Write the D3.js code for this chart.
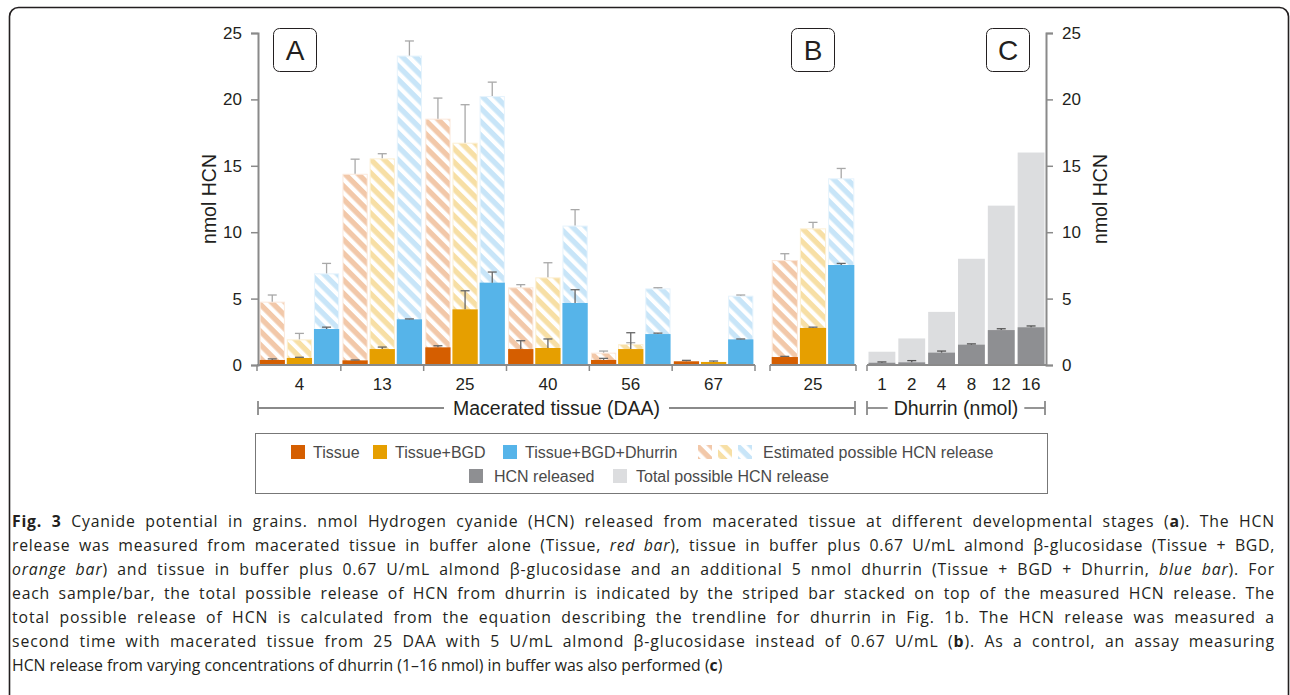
<!DOCTYPE html>
<html><head><meta charset="utf-8">
<script src="https://cdn.jsdelivr.net/npm/d3@7"></script>
<style>
html,body{margin:0;padding:0;background:#fff;}
#wrap{position:relative;width:1290px;height:695px;overflow:hidden;}
svg{position:absolute;left:0;top:0;}
.cap{position:absolute;left:12px;font-family:"Open Sans",sans-serif;font-size:15.8px;line-height:24px;color:#231f20;white-space:nowrap;}
.cap.j{text-align:justify;text-align-last:justify;}
</style></head>
<body><div id="wrap"><svg id="chart" width="1290" height="695"></svg><div id="caption"></div></div>
<script>
// ---------- data ----------
const groupsA = ["4","13","25","40","56","67"];
const seriesNames = ["Tissue","Tissue+BGD","Tissue+BGD+Dhurrin"];
const tissueA      = [0.38, 0.35, 1.33, 1.20, 0.38, 0.28];
const tissueAErr   = [0.08, 0.03, 0.12, 0.63, 0.12, 0.07];
const bgdA         = [0.53, 1.20, 4.19, 1.28, 1.20, 0.23];
const bgdAErr      = [0.05, 0.15, 1.40, 0.68, 1.23, 0.07];
const dhurrinA     = [2.71, 3.44, 6.20, 4.67, 2.33, 1.93];
const dhurrinAErr  = [0.14, 0.03, 0.80, 1.00, 0.07, 0.03];
const tissueATotal    = [4.77, 14.40, 18.55, 5.85, 0.93, 0.20];
const tissueATotalErr = [0.50, 1.10, 1.55, 0.20, 0.12, 0.00];
const bgdATotal       = [1.93, 15.56, 16.74, 6.60, 1.58, 0.20];
const bgdATotalErr    = [0.45, 0.35, 2.86, 1.10, 0.10, 0.00];
const dhurrinATotal   = [6.90, 23.30, 20.25, 10.50, 5.77, 5.22];
const dhurrinATotalErr= [0.75, 1.10, 1.05, 1.20, 0.05, 0.05];

const groupsB = ["25"];
const measuredB    = [0.60, 2.79, 7.53];
const measuredBErr = [0.05, 0.06, 0.12];
const totalB       = [7.90, 10.29, 14.06];
const totalBErr    = [0.48, 0.45, 0.74];

const dhurrinC      = ["1","2","4","8","12","16"];
const releasedC     = [0.17, 0.20, 0.93, 1.53, 2.63, 2.84];
const releasedCErr  = [0.06, 0.13, 0.12, 0.06, 0.10, 0.10];
const totalC        = [1, 2, 4, 8, 12, 16];

const yTicks = [0,5,10,15,20,25];
const panelLabels = ["A","B","C"];
const axisTitleY = "nmol HCN";
const bracketA = "Macerated tissue (DAA)";
const bracketC = "Dhurrin (nmol)";
const legendRow1 = ["Tissue","Tissue+BGD","Tissue+BGD+Dhurrin","Estimated possible HCN release"];
const legendRow2 = ["HCN released","Total possible HCN release"];

// ---------- styles ----------
const solidColors = ["#d55e00","#e69f00","#56b4e9"];
const stripeColors = ["#f2c8a9","#f7dfa5","#c8e5f8"];
const stripeEdge = ["#fbe9dc","#fcf0d4","#e6f3fc"];
const greyDark = "#8e8f92", greyLight = "#dcdddf";
const axisCol = "#8a8a8a";
const FONT = "Liberation Sans, Arial, sans-serif";

const svg = d3.select("#chart");
const defs = svg.append("defs");
stripeColors.forEach((c,i)=>{
  const p = defs.append("pattern").attr("id","st"+i).attr("patternUnits","userSpaceOnUse")
    .attr("width",9.5).attr("height",9.5).attr("patternTransform","rotate(-45)");
  p.append("rect").attr("width",9.5).attr("height",9.5).attr("fill",c);
  p.append("rect").attr("width",4.2).attr("height",9.5).attr("fill","#fff");
});

const y = d3.scaleLinear().domain([0,25]).range([365,33]);

// frame
svg.append("rect").attr("x",9.5).attr("y",7.5).attr("width",1279).attr("height",760)
  .attr("rx",9).attr("fill","none").attr("stroke","#231f20").attr("stroke-width",1.6);

// ---------- panel A & B bars ----------
const xA = d3.scaleBand().domain(groupsA).range([258,755]);
const xB = d3.scaleBand().domain(groupsB).range([770,856]);
const inner = d3.scaleBand().domain(seriesNames).paddingInner(0.07).paddingOuter(0.06);

function errBar(g, x, w, top, err, col){
  if(err<=0) return;
  const cx = x + w/2;
  g.append("line").attr("x1",cx).attr("x2",cx).attr("y1",y(top)).attr("y2",y(top+err))
    .attr("stroke",col).attr("stroke-width",1.3);
  g.append("line").attr("x1",cx-4.5).attr("x2",cx+4.5).attr("y1",y(top+err)).attr("y2",y(top+err))
    .attr("stroke",col).attr("stroke-width",1.3);
}

function drawGroup(x0, bw, meas, measErr, tot, totErr){
  inner.range([x0, x0+bw]);
  const g = svg.append("g");
  seriesNames.forEach((s,i)=>{
    const bx = inner(s), w = inner.bandwidth();
    g.append("rect").attr("x",bx+0.5).attr("y",y(tot[i])+0.5).attr("width",w-1)
      .attr("height",Math.max(0,y(0)-y(tot[i])-0.5))
      .attr("fill","url(#st"+i+")").attr("stroke",stripeEdge[i]).attr("stroke-width",1);
    errBar(g, bx, w, tot[i], totErr[i], "#a8a8a8");
    g.append("rect").attr("x",bx).attr("y",y(meas[i])).attr("width",w)
      .attr("height",y(0)-y(meas[i])).attr("fill",solidColors[i]);
    errBar(g, bx, w, meas[i], measErr[i], "#666");
  });
}
groupsA.forEach((gname,k)=>{
  drawGroup(xA(gname), xA.bandwidth(),
    [tissueA[k],bgdA[k],dhurrinA[k]], [tissueAErr[k],bgdAErr[k],dhurrinAErr[k]],
    [tissueATotal[k],bgdATotal[k],dhurrinATotal[k]], [tissueATotalErr[k],bgdATotalErr[k],dhurrinATotalErr[k]]);
});
drawGroup(xB("25"), xB.bandwidth(), measuredB, measuredBErr, totalB, totalBErr);

// ---------- panel C ----------
const xC = d3.scaleBand().domain(dhurrinC).range([867,1046]).paddingInner(0.1).paddingOuter(0.05);
const gC = svg.append("g");
dhurrinC.forEach((d,i)=>{
  gC.append("rect").attr("x",xC(d)).attr("y",y(totalC[i])).attr("width",xC.bandwidth())
    .attr("height",y(0)-y(totalC[i])).attr("fill",greyLight);
  gC.append("rect").attr("x",xC(d)).attr("y",y(releasedC[i])).attr("width",xC.bandwidth())
    .attr("height",y(0)-y(releasedC[i])).attr("fill",greyDark);
  errBar(gC, xC(d), xC.bandwidth(), releasedC[i], releasedCErr[i], "#555");
});

// ---------- axes ----------
function styleAxis(g){
  g.selectAll(".domain").attr("stroke",axisCol).attr("stroke-width",2);
  g.selectAll(".tick line").attr("stroke",axisCol).attr("stroke-width",1.5);
  g.selectAll(".tick text").attr("font-family",FONT).attr("font-size",17).attr("fill","#231f20");
}
const yl = svg.append("g").attr("transform","translate(258,0)")
  .call(d3.axisLeft(y).tickValues(yTicks).tickSizeOuter(0).tickSize(7).tickPadding(9));
styleAxis(yl);
const yr = svg.append("g").attr("transform","translate(1046,0)")
  .call(d3.axisRight(y).tickValues(yTicks).tickSizeOuter(0).tickSize(7).tickPadding(9));
styleAxis(yr);

function bottomAxis(scale, x0, x1){
  const g = svg.append("g");
  g.append("line").attr("x1",x0).attr("x2",x1).attr("y1",365).attr("y2",365)
    .attr("stroke",axisCol).attr("stroke-width",2);
  const b = scale.domain().map(d=>scale(d)).concat([x1]);
  b.forEach((bx,i)=>{
    const xx = (i===0)? x0 : bx;
    g.append("line").attr("x1",xx).attr("x2",xx).attr("y1",365).attr("y2",371)
      .attr("stroke",axisCol).attr("stroke-width",1.5);
  });
  scale.domain().forEach(d=>{
    g.append("text").attr("x",scale(d)+scale.bandwidth()/2).attr("y",390)
      .attr("text-anchor","middle").attr("font-family",FONT).attr("font-size",17)
      .attr("fill","#231f20").text(d);
  });
}
bottomAxis(xA, 257, 755);
bottomAxis(xB, 770, 856);
// panel C axis
(function(){
  const g = svg.append("g");
  g.append("line").attr("x1",867).attr("x2",1046).attr("y1",365).attr("y2",365)
    .attr("stroke",axisCol).attr("stroke-width",2);
  g.append("line").attr("x1",867).attr("x2",867).attr("y1",365).attr("y2",371)
    .attr("stroke",axisCol).attr("stroke-width",1.5);
  dhurrinC.forEach(d=>{
    g.append("text").attr("x",xC(d)+xC.bandwidth()/2).attr("y",390)
      .attr("text-anchor","middle").attr("font-family",FONT).attr("font-size",17)
      .attr("fill","#231f20").text(d);
  });
})();

// axis titles
svg.append("text").attr("transform","translate(216,199) rotate(-90)").attr("text-anchor","middle")
  .attr("font-family",FONT).attr("font-size",19.5).attr("fill","#231f20").text(axisTitleY);
svg.append("text").attr("transform","translate(1107,199) rotate(-90)").attr("text-anchor","middle")
  .attr("font-family",FONT).attr("font-size",19.5).attr("fill","#231f20").text(axisTitleY);

// panel labels
const panelBoxX = [273, 791, 986];
panelLabels.forEach((l,i)=>{
  svg.append("rect").attr("x",panelBoxX[i]+0.5).attr("y",28.5).attr("width",43).attr("height",43)
    .attr("rx",6).attr("fill","#fff").attr("stroke","#231f20").attr("stroke-width",1);
  svg.append("text").attr("x",panelBoxX[i]+22).attr("y",60).attr("text-anchor","middle")
    .attr("font-family",FONT).attr("font-size",28).attr("fill","#231f20").text(l);
});

// brackets
function bracket(x0, x1, label, gap){
  const g = svg.append("g");
  const t = g.append("text").attr("x",(x0+x1)/2).attr("y",415).attr("text-anchor","middle")
    .attr("font-family",FONT).attr("font-size",19.5).attr("fill","#231f20").text(label);
  const w = t.node().getComputedTextLength();
  const cx = (x0+x1)/2;
  [[x0, cx-w/2-gap],[cx+w/2+gap, x1]].forEach(([a,b])=>{
    g.append("line").attr("x1",a).attr("x2",b).attr("y1",408).attr("y2",408)
      .attr("stroke",axisCol).attr("stroke-width",1.8);
  });
  [x0,x1].forEach(xx=>g.append("line").attr("x1",xx).attr("x2",xx).attr("y1",401).attr("y2",415)
      .attr("stroke",axisCol).attr("stroke-width",1.8));
}
bracket(258, 855, bracketA, 9);
bracket(867, 1045, bracketC, 6);

// legend
const lg = svg.append("g");
lg.append("rect").attr("x",255.5).attr("y",433.5).attr("width",792).attr("height",60)
  .attr("fill","#fff").attr("stroke","#777").attr("stroke-width",1);
function legText(x, yy, s){
  lg.append("text").attr("x",x).attr("y",yy).attr("font-family",FONT).attr("font-size",16)
    .attr("fill","#4a4a4a").text(s);
}
const row1X = [291, 373, 503];
solidColors.forEach((c,i)=>{
  lg.append("rect").attr("x",row1X[i]).attr("y",445).attr("width",14).attr("height",14).attr("fill",c);
  legText(row1X[i]+22, 457.5, legendRow1[i]);
});
stripeColors.forEach((c,i)=>{
  lg.append("rect").attr("x",698+20*i).attr("y",445).attr("width",14).attr("height",14).attr("fill","url(#st"+i+")");
});
legText(763, 457.5, legendRow1[3]);
lg.append("rect").attr("x",469).attr("y",469).attr("width",14).attr("height",14).attr("fill",greyDark);
legText(494, 481.5, legendRow2[0]);
lg.append("rect").attr("x",613).attr("y",469).attr("width",14).attr("height",14).attr("fill",greyLight);
legText(636, 481.5, legendRow2[1]);

// caption
const captionLines = [
  "<b>Fig. 3</b> Cyanide potential in grains. nmol Hydrogen cyanide (HCN) released from macerated tissue at different developmental stages (<b>a</b>). The HCN",
  "release was measured from macerated tissue in buffer alone (Tissue, <i>red bar</i>), tissue in buffer plus 0.67 U/mL almond β-glucosidase (Tissue + BGD,",
  "<i>orange bar</i>) and tissue in buffer plus 0.67 U/mL almond β-glucosidase and an additional 5 nmol dhurrin (Tissue + BGD + Dhurrin, <i>blue bar</i>). For",
  "each sample/bar, the total possible release of HCN from dhurrin is indicated by the striped bar stacked on top of the measured HCN release. The",
  "total possible release of HCN is calculated from the equation describing the trendline for dhurrin in Fig. 1b. The HCN release was measured a",
  "second time with macerated tissue from 25 DAA with 5 U/mL almond β-glucosidase instead of 0.67 U/mL (<b>b</b>). As a control, an assay measuring",
  "HCN release from varying concentrations of dhurrin (1–16 nmol) in buffer was also performed (<b>c</b>)"
];
const CAPW = 1263;
const cap = d3.select("#caption");
captionLines.forEach((l,i)=>{
  const last = i===captionLines.length-1;
  const div = cap.append("div").attr("class","cap").style("top",(509+24*i)+"px").html(l);
  if(!last){
    const natural = div.node().getBoundingClientRect().width;
    const nchars = div.node().textContent.length;
    const extra = Math.max(0, CAPW - natural);
    div.style("letter-spacing", (0.55*extra/nchars)+"px");
    div.classed("j", true).style("width", CAPW+"px");
  }
});
</script></body></html>
